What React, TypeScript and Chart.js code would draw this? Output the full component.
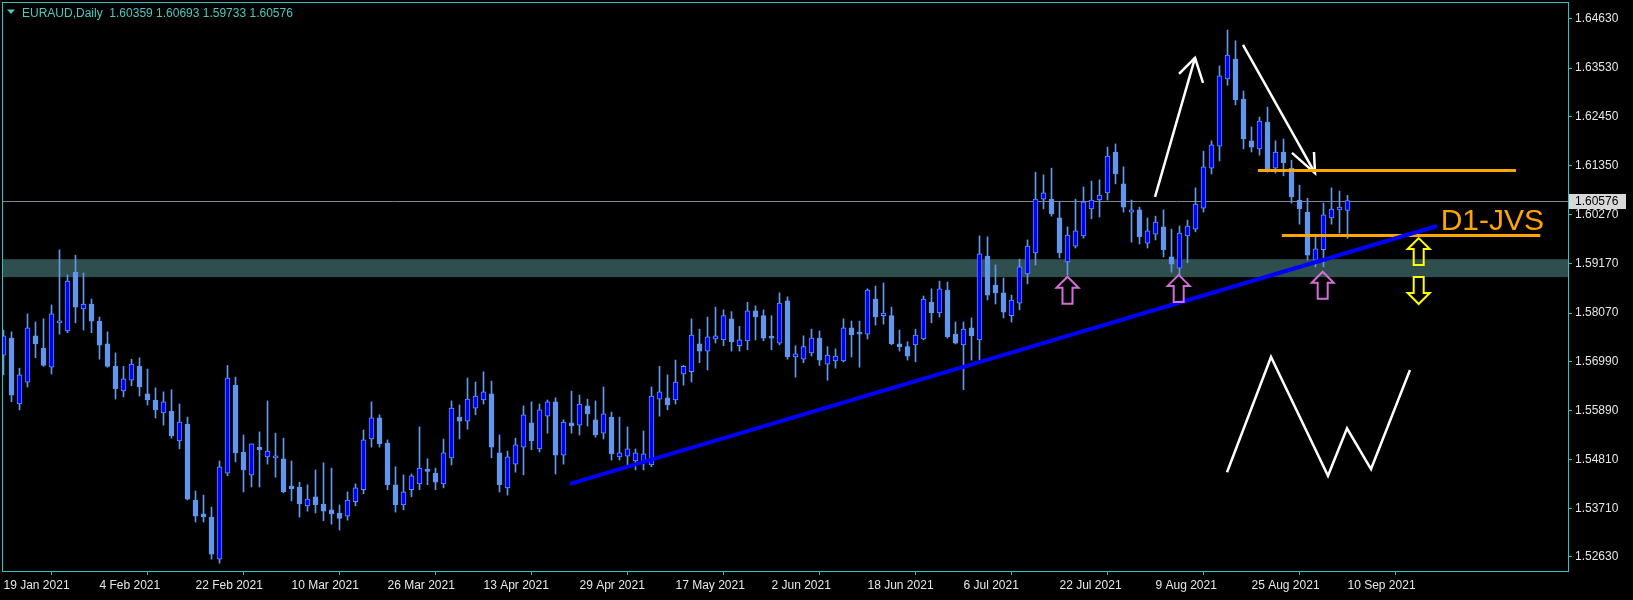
import React, { useEffect, useRef } from "react";
import { Chart, registerables } from "chart.js";
Chart.register(...registerables);

const symbolTitle = "EURAUD,Daily";
const lastOHLC = ["1.60359", "1.60693", "1.59733", "1.60576"];

const opens = [
  1.5713, 1.5751, 1.5604, 1.5653, 1.5756, 1.5729, 1.5686, 1.5785, 1.5767, 1.5898,
  1.5816, 1.5827, 1.5789, 1.5738, 1.5688, 1.5633, 1.5657, 1.5688, 1.5627, 1.5613,
  1.5584, 1.5588, 1.5522, 1.5559, 1.5390, 1.5359, 1.5352, 1.5258, 1.5450, 1.5646,
  1.5497, 1.5446, 1.5508, 1.5486, 1.5484, 1.5482, 1.5421, 1.5419, 1.5377, 1.5397,
  1.5381, 1.5368, 1.5361, 1.5354, 1.5386, 1.5413, 1.5526, 1.5573, 1.5517, 1.5424,
  1.5379, 1.5413, 1.5426, 1.5455, 1.5450, 1.5426, 1.5484, 1.5575, 1.5566, 1.5595,
  1.5613, 1.5627, 1.5495, 1.5417, 1.5470, 1.5508, 1.5562, 1.5504, 1.5577, 1.5609,
  1.5490, 1.5562, 1.5557, 1.5600, 1.5569, 1.5539, 1.5575, 1.5486, 1.5488, 1.5477,
  1.5473, 1.5468, 1.5615, 1.5618, 1.5613, 1.5671, 1.5676, 1.5738, 1.5722, 1.5749,
  1.5747, 1.5794, 1.5734, 1.5745, 1.5812, 1.5801, 1.5753, 1.5740, 1.5834, 1.5709,
  1.5704, 1.5718, 1.5751, 1.5693, 1.5700, 1.5700, 1.5774, 1.5762, 1.5760, 1.5838,
  1.5801, 1.5801, 1.5738, 1.5732, 1.5736, 1.5749, 1.5831, 1.5807, 1.5858, 1.5760,
  1.5736, 1.5774, 1.5747, 1.5934, 1.5869, 1.5852, 1.5801, 1.5829, 1.5894, 1.5941,
  1.6061, 1.6061, 1.6019, 1.5921, 1.5956, 1.5979, 1.6039, 1.6059, 1.6075, 1.6166,
  1.6095, 1.6032, 1.6037, 1.5963, 1.5983, 1.5999, 1.5932, 1.5907, 1.5979, 1.5994,
  1.6041, 1.6130, 1.6179, 1.6329, 1.6373, 1.6284, 1.6191, 1.6173, 1.6233, 1.6130,
  1.6166, 1.6130, 1.6059, 1.6032, 1.5925, 1.5948, 1.6019, 1.6037, 1.60359,
];
const highs = [
  1.5769, 1.5765, 1.5684, 1.5805, 1.5787, 1.5794, 1.5825, 1.5948, 1.5892, 1.5936,
  1.5896, 1.5838, 1.5798, 1.5765, 1.5718, 1.5688, 1.5704, 1.5707, 1.5682, 1.5640,
  1.5631, 1.5636, 1.5604, 1.5575, 1.5410, 1.5401, 1.5374, 1.5477, 1.5690, 1.5664,
  1.5535, 1.5515, 1.5542, 1.5611, 1.5539, 1.5528, 1.5477, 1.5430, 1.5424, 1.5457,
  1.5473, 1.5461, 1.5379, 1.5408, 1.5426, 1.5546, 1.5609, 1.5580, 1.5524, 1.5464,
  1.5446, 1.5448, 1.5553, 1.5482, 1.5461, 1.5526, 1.5611, 1.5602, 1.5662, 1.5653,
  1.5676, 1.5655, 1.5535, 1.5499, 1.5528, 1.5600, 1.5609, 1.5604, 1.5613, 1.5618,
  1.5569, 1.5633, 1.5624, 1.5615, 1.5611, 1.5642, 1.5586, 1.5575, 1.5553, 1.5504,
  1.5544, 1.5642, 1.5688, 1.5669, 1.5702, 1.5690, 1.5794, 1.5771, 1.5798, 1.5820,
  1.5814, 1.5810, 1.5777, 1.5831, 1.5823, 1.5814, 1.5801, 1.5852, 1.5843, 1.5734,
  1.5756, 1.5771, 1.5767, 1.5732, 1.5727, 1.5794, 1.5789, 1.5789, 1.5861, 1.5867,
  1.5874, 1.5820, 1.5769, 1.5743, 1.5771, 1.5845, 1.5861, 1.5878, 1.5876, 1.5787,
  1.5787, 1.5796, 1.5979, 1.5977, 1.5914, 1.5885, 1.5847, 1.5927, 1.5970, 1.6121,
  1.6115, 1.6130, 1.6055, 1.5999, 1.6061, 1.6088, 1.6101, 1.6104, 1.6177, 1.6184,
  1.6133, 1.6059, 1.6043, 1.6019, 1.6023, 1.6037, 1.5994, 1.6001, 1.6014, 1.6086,
  1.6168, 1.6191, 1.6358, 1.6438, 1.6414, 1.6302, 1.6222, 1.6244, 1.6266, 1.6191,
  1.6195, 1.6148, 1.6092, 1.6063, 1.5977, 1.6052, 1.6086, 1.6079, 1.60693,
];
const lows = [
  1.5669, 1.5609, 1.5591, 1.5642, 1.5707, 1.5688, 1.5671, 1.5760, 1.5763, 1.5785,
  1.5769, 1.5763, 1.5704, 1.5686, 1.5615, 1.5620, 1.5645, 1.5622, 1.5602, 1.5573,
  1.5557, 1.5528, 1.5504, 1.5390, 1.5341, 1.5341, 1.5258, 1.5249, 1.5444, 1.5475,
  1.5408, 1.5419, 1.5419, 1.5470, 1.5441, 1.5406, 1.5388, 1.5352, 1.5365, 1.5361,
  1.5344, 1.5336, 1.5323, 1.5345, 1.5377, 1.5404, 1.5508, 1.5508, 1.5413, 1.5363,
  1.5368, 1.5397, 1.5413, 1.5424, 1.5413, 1.5417, 1.5468, 1.5526, 1.5548, 1.5580,
  1.5604, 1.5484, 1.5408, 1.5401, 1.5452, 1.5446, 1.5502, 1.5497, 1.5539, 1.5448,
  1.5470, 1.5539, 1.5535, 1.5555, 1.5530, 1.5526, 1.5479, 1.5479, 1.5466, 1.5457,
  1.5457, 1.5464, 1.5577, 1.5591, 1.5604, 1.5646, 1.5653, 1.5696, 1.5680, 1.5740,
  1.5734, 1.5722, 1.5722, 1.5725, 1.5747, 1.5745, 1.5725, 1.5736, 1.5704, 1.5664,
  1.5696, 1.5711, 1.5690, 1.5657, 1.5684, 1.5698, 1.5709, 1.5686, 1.5749, 1.5780,
  1.5782, 1.5736, 1.5722, 1.5702, 1.5698, 1.5747, 1.5785, 1.5798, 1.5751, 1.5738,
  1.5636, 1.5702, 1.5700, 1.5836, 1.5827, 1.5796, 1.5787, 1.5814, 1.5872, 1.5914,
  1.6039, 1.6023, 1.5930, 1.5892, 1.5952, 1.5974, 1.6017, 1.6021, 1.6059, 1.6095,
  1.6032, 1.5965, 1.5961, 1.5952, 1.5970, 1.5932, 1.5898, 1.5892, 1.5919, 1.5988,
  1.6032, 1.6117, 1.6146, 1.6315, 1.6271, 1.6173, 1.6166, 1.6159, 1.6121, 1.6119,
  1.6113, 1.6052, 1.6005, 1.5925, 1.5910, 1.5910, 1.6005, 1.5985, 1.59733,
];
const closes = [
  1.5756, 1.5624, 1.5669, 1.5774, 1.5738, 1.5690, 1.5805, 1.5789, 1.5878, 1.5820,
  1.5827, 1.5789, 1.5735, 1.5688, 1.5638, 1.5660, 1.5693, 1.5642, 1.5613, 1.5591,
  1.5609, 1.5533, 1.5564, 1.5392, 1.5354, 1.5352, 1.5269, 1.5464, 1.5662, 1.5495,
  1.5457, 1.5515, 1.5502, 1.5499, 1.5488, 1.5408, 1.5415, 1.5381, 1.5392, 1.5379,
  1.5365, 1.5359, 1.5349, 1.5390, 1.5417, 1.5524, 1.5573, 1.5515, 1.5424, 1.5379,
  1.5408, 1.5444, 1.5461, 1.5454, 1.5430, 1.5495, 1.5595, 1.5566, 1.5615, 1.5622,
  1.5631, 1.5508, 1.5424, 1.5486, 1.5513, 1.5580, 1.5522, 1.5591, 1.5609, 1.5490,
  1.5564, 1.5555, 1.5604, 1.5582, 1.5535, 1.5582, 1.5493, 1.5495, 1.5504, 1.5495,
  1.5493, 1.5622, 1.5631, 1.5602, 1.5653, 1.5688, 1.5758, 1.5722, 1.5754, 1.5756,
  1.5801, 1.5743, 1.5747, 1.5812, 1.5798, 1.5751, 1.5751, 1.5829, 1.5709, 1.5716,
  1.5732, 1.5751, 1.5702, 1.5713, 1.5711, 1.5774, 1.5758, 1.5760, 1.5858, 1.5798,
  1.5807, 1.5738, 1.5732, 1.5711, 1.5758, 1.5838, 1.5807, 1.5861, 1.5754, 1.5740,
  1.5771, 1.5756, 1.5939, 1.5847, 1.5852, 1.5809, 1.5836, 1.5910, 1.5956, 1.6061,
  1.6075, 1.6028, 1.5941, 1.5981, 1.5990, 1.6055, 1.6059, 1.6070, 1.6157, 1.6117,
  1.6043, 1.6037, 1.5977, 1.5990, 1.6010, 1.5948, 1.5916, 1.5985, 1.6001, 1.6050,
  1.6133, 1.6182, 1.6336, 1.6382, 1.6282, 1.6195, 1.6177, 1.6235, 1.6126, 1.6166,
  1.6142, 1.6066, 1.6039, 1.5936, 1.5950, 1.6026, 1.6039, 1.6043, 1.60576,
];

const dateTickIndex = [0, 12, 24, 36, 48, 60, 72, 84, 96, 108, 120, 132, 144, 156, 168];
const dateTickLabels = [
  "19 Jan 2021", "4 Feb 2021", "22 Feb 2021", "10 Mar 2021", "26 Mar 2021",
  "13 Apr 2021", "29 Apr 2021", "17 May 2021", "2 Jun 2021", "18 Jun 2021",
  "6 Jul 2021", "22 Jul 2021", "9 Aug 2021", "25 Aug 2021", "10 Sep 2021",
];
const priceTicks = [1.6463, 1.6353, 1.6245, 1.6135, 1.6027, 1.5917, 1.5807, 1.5699, 1.5589, 1.5481, 1.5371, 1.5263];

const currentPrice = 1.60576;
const zonePrices = [1.5927, 1.5887];

const trendX = [70.81, 179.19];
const trendY = [1.5426, 1.6001];
const level1X = [156.8, 189.06];
const level1Y = [1.6125, 1.6125];
const level2X = [159.8, 192.1];
const level2Y = [1.598, 1.598];

const upArrowX = [143.94, 148.94];
const upArrowY = [1.6066, 1.6376];
const upHeadX = [146.94, 148.94, 149.94];
const upHeadY = [1.634, 1.6376, 1.632];
const downArrowX = [154.94, 163.94];
const downArrowY = [1.6405, 1.6119];
const downHeadX = [161.06, 163.94, 163.81];
const downHeadY = [1.6164, 1.6119, 1.6166];
const zigzagX = [152.94, 158.44, 165.56, 167.94, 170.94, 175.81];
const zigzagY = [1.5452, 1.5709, 1.5444, 1.555, 1.5459, 1.568];

const pinkArrowX = [133.0, 146.9, 164.9];
const pinkArrowY = [1.5888, 1.5892, 1.5899];
const yellowUpX = [176.9];
const yellowUpY = [1.5974];
const yellowDownX = [176.9];
const yellowDownY = [1.5827];

const labelText = "D1-JVS";
const labelX = 179.65;
const labelY = 1.5991;

const X_MIN = -0.1875;
const X_MAX = 195.5625;
const Y_MIN = 1.523167;
const Y_MAX = 1.650054;

const FONT = "'Liberation Sans', Arial, sans-serif";
const FRAME = "#2fc4c0";
const AXIS_TEXT = "#e6e6e6";
const HEADER = "#4fc8be";
const BULL = "#0000ff";
const BEAR = "#6495ed";

function pts(xs: number[], ys: number[]) {
  return xs.map((x, i) => ({ x, y: ys[i] }));
}

const overlayPlugin = {
  id: "overlay",
  beforeDatasetsDraw(chart: any) {
    const { ctx, chartArea, scales } = chart;
    const y = scales.y;
    ctx.save();
    const z1 = y.getPixelForValue(zonePrices[0]);
    const z2 = y.getPixelForValue(zonePrices[1]);
    ctx.fillStyle = "#2f4f4f";
    ctx.fillRect(chartArea.left, z1, chartArea.right - chartArea.left, z2 - z1);
    const py = Math.round(y.getPixelForValue(currentPrice)) + 0.5;
    ctx.strokeStyle = "#778899";
    ctx.lineWidth = 1;
    ctx.beginPath();
    ctx.moveTo(chartArea.left, py);
    ctx.lineTo(chartArea.right, py);
    ctx.stroke();
    ctx.restore();
  },
  afterDatasetsDraw(chart: any) {
    const { ctx, chartArea, scales } = chart;
    const x = scales.x;
    const y = scales.y;
    ctx.save();
    const blockArrow = (cx: number, tipY: number, dir: number, color: string) => {
      const w = 11, hh = 11, sw = 5, len = 27;
      ctx.beginPath();
      ctx.moveTo(cx, tipY);
      ctx.lineTo(cx + w, tipY + dir * hh);
      ctx.lineTo(cx + sw, tipY + dir * hh);
      ctx.lineTo(cx + sw, tipY + dir * len);
      ctx.lineTo(cx - sw, tipY + dir * len);
      ctx.lineTo(cx - sw, tipY + dir * hh);
      ctx.lineTo(cx - w, tipY + dir * hh);
      ctx.closePath();
      ctx.lineWidth = 2;
      ctx.strokeStyle = color;
      ctx.stroke();
    };
    pinkArrowX.forEach((v, i) => {
      blockArrow(x.getPixelForValue(v), y.getPixelForValue(pinkArrowY[i]), 1, "#d36fd3");
    });
    yellowUpX.forEach((v, i) => {
      blockArrow(x.getPixelForValue(v), y.getPixelForValue(yellowUpY[i]), 1, "#ffff00");
    });
    yellowDownX.forEach((v, i) => {
      blockArrow(x.getPixelForValue(v), y.getPixelForValue(yellowDownY[i]), -1, "#ffff00");
    });
    ctx.fillStyle = "#ffa500";
    ctx.font = `30px ${FONT}`;
    ctx.textAlign = "left";
    ctx.textBaseline = "alphabetic";
    ctx.fillText(labelText, x.getPixelForValue(labelX), y.getPixelForValue(labelY));
    ctx.restore();
  },
  afterDraw(chart: any) {
    const { ctx, chartArea, scales } = chart;
    const y = scales.y;
    ctx.save();
    // frame
    ctx.strokeStyle = FRAME;
    ctx.lineWidth = 1;
    ctx.strokeRect(chartArea.left + 0.5, chartArea.top + 0.5, chartArea.right - chartArea.left, chartArea.bottom - chartArea.top);
    // header
    ctx.fillStyle = HEADER;
    ctx.beginPath();
    ctx.moveTo(7, 9.5);
    ctx.lineTo(15, 9.5);
    ctx.lineTo(11, 14);
    ctx.closePath();
    ctx.fill();
    ctx.font = `12px ${FONT}`;
    ctx.textBaseline = "alphabetic";
    ctx.textAlign = "left";
    ctx.fillText(`${symbolTitle}  ${lastOHLC.join(" ")}`, 22, 17);
    // current price box
    const py = Math.round(y.getPixelForValue(currentPrice));
    ctx.fillStyle = "#d8d8d8";
    ctx.fillRect(chartArea.right + 1, py - 7, 57, 15);
    ctx.fillStyle = "#000000";
    ctx.textBaseline = "middle";
    ctx.fillText(currentPrice.toFixed(5), chartArea.right + 7, py + 1);
    ctx.restore();
  },
};

export default function App() {
  const ref = useRef<HTMLCanvasElement | null>(null);
  useEffect(() => {
    document.body.style.margin = "0";
    document.body.style.background = "#000";
    const canvas = ref.current!;
    const bodies = opens.map((o, i) => ({ x: i, y: [o, closes[i]] }));
    const wicks = lows.map((l, i) => ({ x: i, y: [l, highs[i]] }));
    const bodyColors = opens.map((o, i) => (closes[i] >= o ? BULL : BEAR));
    const lineDs = (data: any[], color: string, width: number) => ({
      type: "line" as const,
      data,
      borderColor: color,
      borderWidth: width,
      pointRadius: 0,
      fill: false,
      tension: 0,
      order: 0,
    });
    const chart = new Chart(canvas, {
      type: "bar",
      data: {
        datasets: [
          lineDs(pts(trendX, trendY), "#0000ff", 4) as any,
          lineDs(pts(level1X, level1Y), "#ffa500", 3) as any,
          lineDs(pts(level2X, level2Y), "#ffa500", 3) as any,
          lineDs(pts(upArrowX, upArrowY), "#ffffff", 2.5) as any,
          lineDs(pts(upHeadX, upHeadY), "#ffffff", 2.5) as any,
          lineDs(pts(downArrowX, downArrowY), "#ffffff", 2.5) as any,
          lineDs(pts(downHeadX, downHeadY), "#ffffff", 2.5) as any,
          lineDs(pts(zigzagX, zigzagY), "#ffffff", 2.5) as any,
          {
            type: "bar",
            data: bodies as any,
            backgroundColor: bodyColors,
            borderColor: BEAR,
            borderWidth: 1,
            borderSkipped: false,
            barThickness: 5,
            minBarLength: 2,
            grouped: false,
            order: 1,
          } as any,
          {
            type: "bar",
            data: wicks as any,
            backgroundColor: BEAR,
            borderWidth: 0,
            barThickness: 1,
            grouped: false,
            order: 2,
          } as any,
        ],
      },
      options: {
        responsive: false,
        animation: false,
        devicePixelRatio: 1,
        layout: { padding: { left: 2, top: 2, right: 0, bottom: 0 } },
        plugins: { legend: { display: false }, tooltip: { enabled: false } },
        scales: {
          x: {
            type: "linear",
            min: X_MIN,
            max: X_MAX,
            bounds: "data",
            offset: false,
            afterBuildTicks: (s: any) => {
              s.ticks = dateTickIndex.map((v) => ({ value: v }));
            },
            afterFit: (s: any) => {
              s.height = 29;
              s.paddingLeft = 0;
              s.paddingRight = 0;
            },
            ticks: {
              autoSkip: false,
              maxRotation: 0,
              minRotation: 0,
              align: "start",
              padding: 3,
              color: AXIS_TEXT,
              font: { family: FONT, size: 12 },
              callback: (_v: any, i: number) => dateTickLabels[i],
            },
            grid: { drawOnChartArea: false, drawTicks: true, tickLength: 4, color: FRAME },
            border: { display: true, color: FRAME },
          },
          y: {
            type: "linear",
            position: "right",
            min: Y_MIN,
            max: Y_MAX,
            bounds: "data",
            afterBuildTicks: (s: any) => {
              s.ticks = priceTicks.map((v) => ({ value: v }));
            },
            afterFit: (s: any) => {
              s.width = 65;
              s.paddingTop = 0;
              s.paddingBottom = 0;
            },
            ticks: {
              autoSkip: false,
              padding: 3,
              color: AXIS_TEXT,
              font: { family: FONT, size: 12 },
              callback: (v: any) => Number(v).toFixed(5),
            },
            grid: { drawOnChartArea: false, drawTicks: true, tickLength: 4, color: FRAME },
            border: { display: true, color: FRAME },
          },
        },
      } as any,
      plugins: [overlayPlugin],
    });
    return () => chart.destroy();
  }, []);
  return (
    <div style={{ width: 1633, height: 600, background: "#000" }}>
      <canvas ref={ref} width={1633} height={600} style={{ display: "block" }} />
    </div>
  );
}
